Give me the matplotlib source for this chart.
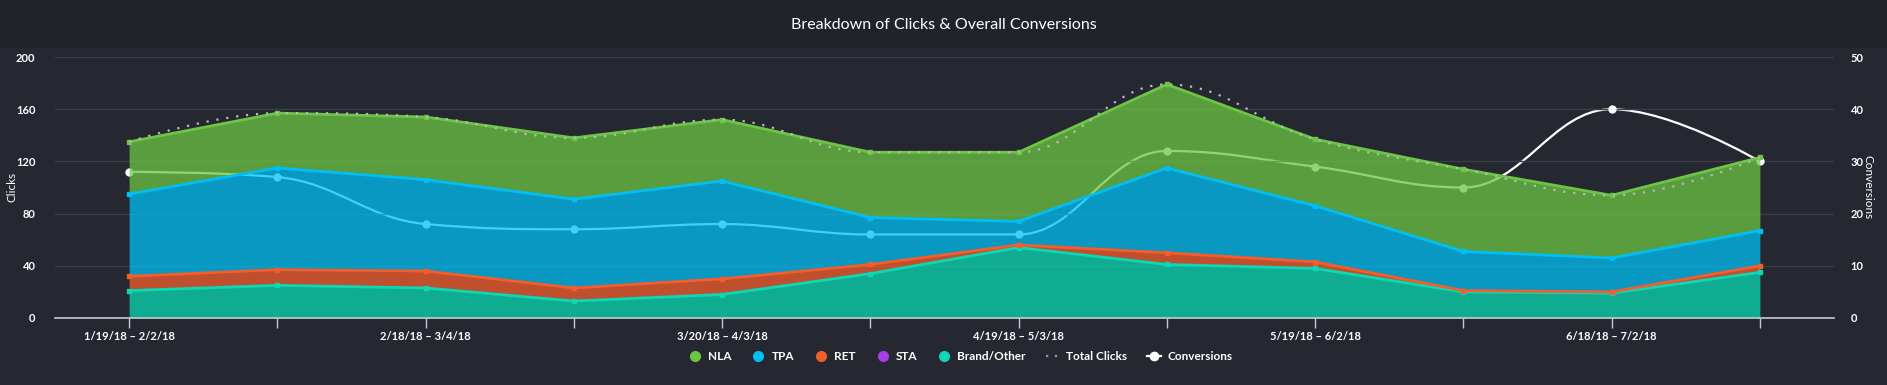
import matplotlib
matplotlib.use("Agg")
import matplotlib.pyplot as plt
from matplotlib.path import Path
from matplotlib.patches import PathPatch, Rectangle
from matplotlib.lines import Line2D
import numpy as np

# data
periods = ["1/19/18 – 2/2/18", "2/3/18 – 2/17/18", "2/18/18 – 3/4/18", "3/5/18 – 3/19/18",
           "3/20/18 – 4/3/18", "4/4/18 – 4/18/18", "4/19/18 – 5/3/18", "5/4/18 – 5/18/18",
           "5/19/18 – 6/2/18", "6/3/18 – 6/17/18", "6/18/18 – 7/2/18", "7/3/18 – 7/17/18"]
nla = [40, 42, 48, 47, 47, 50, 53, 64, 51, 63, 48, 56]
tpa = [63, 78, 70, 68, 75, 36, 18, 65, 43, 30, 26, 27]
ret = [11, 12, 13, 10, 12, 7, 2, 9, 5, 1, 1, 5]
sta = [0, 0, 0, 0, 0, 0, 0, 0, 0, 0, 0, 0]
brand = [21, 25, 23, 13, 18, 34, 54, 41, 38, 20, 19, 35]
conversions = [28, 27, 18, 17, 18, 16, 16, 32, 29, 25, 40, 30]

BG = "#252830"
TITLE_BG = "#202329"
GRID = "#3b3e45"
FONT = ["Lato", "DejaVu Sans"]

c_nla = "#6cc644"
c_tpa = "#00bff3"
c_ret = "#f45d2d"
c_sta = "#a83ee8"
c_brand = "#0ad9b4"


def spline_path(xs, ys):
    # same smoothing as a Highcharts spline series
    sm = 1.5
    d = sm + 1
    verts = [(xs[0], ys[0])]
    codes = [Path.MOVETO]
    right = (xs[0], ys[0])
    n = len(xs)
    for i in range(1, n):
        x, y = xs[i], ys[i]
        if i < n - 1:
            lx, ly = xs[i - 1], ys[i - 1]
            nx, ny = xs[i + 1], ys[i + 1]
            lcx, lcy = (sm * x + lx) / d, (sm * y + ly) / d
            rcx, rcy = (sm * x + nx) / d, (sm * y + ny) / d
            if rcx != lcx:
                corr = ((rcy - lcy) * (rcx - x)) / (rcx - lcx) + y - rcy
                lcy += corr
                rcy += corr
            if lcy > ly and lcy > y:
                lcy = max(ly, y); rcy = 2 * y - lcy
            elif lcy < ly and lcy < y:
                lcy = min(ly, y); rcy = 2 * y - lcy
            if rcy > ny and rcy > y:
                rcy = max(ny, y); lcy = 2 * y - rcy
            elif rcy < ny and rcy < y:
                rcy = min(ny, y); lcy = 2 * y - rcy
        else:
            lcx, lcy, rcx, rcy = x, y, x, y
        verts += [right, (lcx, lcy), (x, y)]
        codes += [Path.CURVE4] * 3
        right = (rcx, rcy)
    return Path(verts, codes)


x = np.arange(len(nla))
s0 = np.zeros(len(x))
s1 = s0 + brand
s2 = s1 + sta
s3 = s2 + ret
s4 = s3 + tpa
s5 = s4 + nla
total = s5

fig = plt.figure(figsize=(18.87, 3.85), dpi=100, facecolor=BG)
fig.patches.append(Rectangle((0, 1 - 48 / 385), 1, 48 / 385, transform=fig.transFigure,
                             facecolor=TITLE_BG, edgecolor="none", zorder=0))
fig.text(0.5, 1 - 25 / 385, "Breakdown of Clicks & Overall Conversions", color="white",
         ha="center", va="center", fontsize=11.5, family=FONT)

ax = fig.add_axes([55 / 1887, 67 / 385, (1834 - 55) / 1887, (318 - 57) / 385])
ax2 = ax.twinx()
# conversions sit under the translucent areas
ax.set_zorder(ax2.get_zorder() + 1)
ax.patch.set_visible(False)
ax2.patch.set_facecolor(BG)

# right axis: grid + conversions spline
ax2.set_ylim(0, 50)
ax2.set_yticks(range(0, 51, 10))
ax2.grid(axis="y", color=GRID, lw=1)
ax2.add_patch(PathPatch(spline_path(x, conversions), fill=False, edgecolor="white", lw=1.6))
ax2.plot(x, conversions, "o", color="white", ms=6, mec="none")

# stacked areas
layers = [(s0, s1, c_brand), (s1, s2, c_sta), (s2, s3, c_ret), (s3, s4, c_tpa), (s4, s5, c_nla)]
for lo, hi, col in layers:
    ax.fill_between(x, lo, hi, color=col, alpha=0.75, lw=0)
for lo, hi, col in layers:
    if np.any(hi > lo):
        ax.plot(x, hi, color=col, lw=2, marker="s", ms=3, solid_capstyle="butt")

ax.add_patch(PathPatch(spline_path(x, total), fill=False, edgecolor="#b8b8b8",
                       lw=1.6, linestyle=(0, (1, 3.5)), zorder=5))

ax.set_xlim(-0.5, len(x) - 0.5)
ax2.set_xlim(-0.5, len(x) - 0.5)
ax.set_ylim(0, 200)
ax.set_yticks(range(0, 201, 40))
ax.set_xticks(x)
ax.set_xticklabels([p if i % 2 == 0 else "" for i, p in enumerate(periods)])

for a in (ax, ax2):
    for sp in a.spines.values():
        sp.set_visible(False)
ax.spines["bottom"].set_visible(True)
ax.spines["bottom"].set_color("#c8c8d0")
ax.spines["bottom"].set_linewidth(1.2)

ax.tick_params(axis="x", colors="#c8c8d0", length=7, width=1, pad=2, labelcolor="white",
               labelsize=8)
ax.tick_params(axis="y", length=0, pad=14, labelcolor="white", labelsize=8)
ax2.tick_params(axis="y", length=0, pad=12, labelcolor="white", labelsize=8)
for lab in ax.get_xticklabels() + ax.get_yticklabels() + ax2.get_yticklabels():
    lab.set_family(FONT)
    lab.set_fontweight("bold")

fig.text(12 / 1887, 1 - 187 / 385, "Clicks", color="white", fontsize=8.5, family=FONT,
         rotation=90, ha="center", va="center")
fig.text(1868 / 1887, 1 - 187 / 385, "Conversions", color="white", fontsize=8.5, family=FONT,
         rotation=270, ha="center", va="center")

handles = [
    Line2D([], [], ls="none", marker="o", ms=8, color=c_nla, mec="none"),
    Line2D([], [], ls="none", marker="o", ms=8, color=c_tpa, mec="none"),
    Line2D([], [], ls="none", marker="o", ms=8, color=c_ret, mec="none"),
    Line2D([], [], ls="none", marker="o", ms=8, color=c_sta, mec="none"),
    Line2D([], [], ls="none", marker="o", ms=8, color=c_brand, mec="none"),
    Line2D([], [], color="#9a9a9a", lw=1.6, ls=(0, (1, 3))),
    Line2D([], [], color="white", lw=1.6, marker="o", ms=6),
]
names = ["NLA", "TPA", "RET", "STA", "Brand/Other", "Total Clicks", "Conversions"]
leg = fig.legend(handles, names, loc="center", bbox_to_anchor=(960 / 1887, 1 - 357 / 385),
                 ncol=7, frameon=False, handlelength=1.2, handletextpad=0.5, columnspacing=1.7,
                 prop={"family": FONT, "weight": "bold", "size": 8.5})
for t in leg.get_texts():
    t.set_color("white")

fig.savefig("out.png", dpi=100, facecolor=BG)
